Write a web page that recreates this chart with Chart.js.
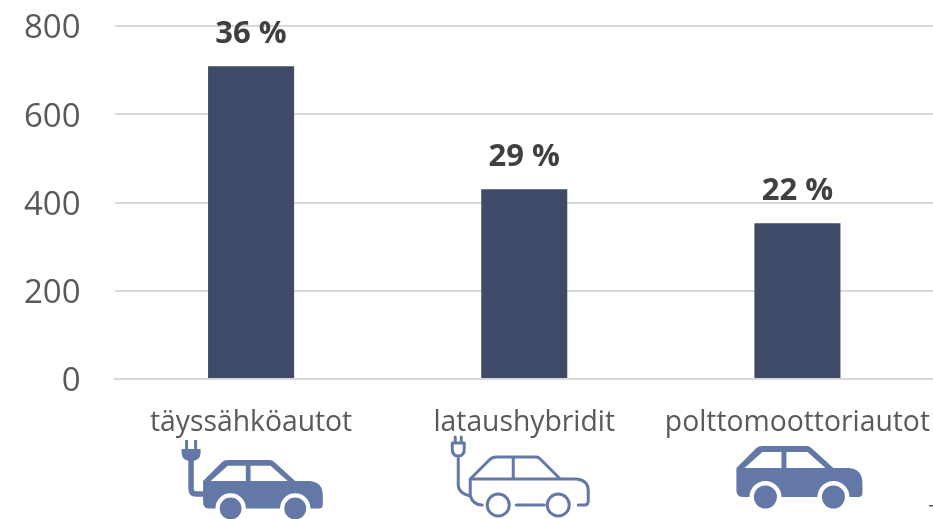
<!DOCTYPE html>
<html><head><meta charset="utf-8">
<style>html,body{margin:0;padding:0;background:#fff;overflow:hidden;width:933px;height:519px}canvas{display:block}</style>
<script src="https://cdn.jsdelivr.net/npm/chart.js@4"></script></head>
<body><canvas id="c" width="934" height="519" style="width:934px;height:519px"></canvas>
<script>
const categories = ["täyssähköautot", "lataushybridit", "polttomoottoriautot"];
const values = [709, 430, 353];
const shareLabels = ["36 %", "29 %", "22 %"];
const yTicks = [0, 200, 400, 600, 800];
const FONT = '"Open Sans", sans-serif';
const ICON = '#6478A8';

function solidCar(ctx, x, y, s) {
  ctx.save(); ctx.translate(x, y); ctx.scale(s, s);
  ctx.fillStyle = ICON;
  ctx.beginPath();
  ctx.moveTo(0, 22); ctx.lineTo(20, 2); ctx.quadraticCurveTo(22, 0, 26, 0);
  ctx.lineTo(70, 0); ctx.quadraticCurveTo(73, 0, 75, 2); ctx.lineTo(97, 22);
  ctx.lineTo(112, 22); ctx.quadraticCurveTo(126, 23, 126, 37);
  ctx.lineTo(126, 47); ctx.quadraticCurveTo(126, 51, 122, 51);
  ctx.lineTo(6, 51); ctx.quadraticCurveTo(0, 51, 0, 44); ctx.closePath(); ctx.fill();
  ctx.fillStyle = '#fff';
  ctx.beginPath(); ctx.moveTo(8, 22); ctx.lineTo(26, 6); ctx.lineTo(45, 6); ctx.lineTo(45, 22); ctx.closePath(); ctx.fill();
  ctx.beginPath(); ctx.moveTo(50, 6); ctx.lineTo(71, 6); ctx.lineTo(89, 22); ctx.lineTo(50, 22); ctx.closePath(); ctx.fill();
  [29, 97].forEach(cx => {
    ctx.fillStyle = '#fff'; ctx.beginPath(); ctx.arc(cx, 51, 16, 0, Math.PI * 2); ctx.fill();
    ctx.fillStyle = ICON; ctx.beginPath(); ctx.arc(cx, 51, 11.5, 0, Math.PI * 2); ctx.fill();
  });
  ctx.restore();
}
function solidPlug(ctx, x, y) {
  ctx.save(); ctx.translate(x, y);
  ctx.fillStyle = ICON;
  ctx.fillRect(-6, 0, 3, 10); ctx.fillRect(3, 0, 3, 10);
  ctx.beginPath(); ctx.moveTo(-9.5, 9); ctx.lineTo(9.5, 9); ctx.lineTo(9.5, 13);
  ctx.quadraticCurveTo(9, 21, 0, 21); ctx.quadraticCurveTo(-9, 21, -9.5, 13); ctx.closePath(); ctx.fill();
  ctx.strokeStyle = ICON; ctx.lineWidth = 5.5;
  ctx.beginPath(); ctx.moveTo(0, 20); ctx.lineTo(0, 49); ctx.quadraticCurveTo(0, 54, 5, 54); ctx.lineTo(14, 54); ctx.stroke();
  ctx.restore();
}
function outlineCar(ctx, x, y) {
  ctx.save(); ctx.translate(x, y);
  ctx.strokeStyle = ICON; ctx.lineWidth = 3; ctx.lineJoin = 'round'; ctx.lineCap = 'round';
  ctx.beginPath(); ctx.moveTo(-15, -20); ctx.lineTo(-15, -14); ctx.moveTo(-9, -20); ctx.lineTo(-9, -14);
  ctx.moveTo(-18, -14); ctx.lineTo(-6, -14); ctx.lineTo(-6, -8); ctx.quadraticCurveTo(-6, -1, -12, -1);
  ctx.quadraticCurveTo(-18, -1, -18, -8); ctx.closePath();
  ctx.moveTo(-12, -1); ctx.lineTo(-12, 28); ctx.quadraticCurveTo(-12, 36, 0, 39); ctx.quadraticCurveTo(3, 48, 12, 48);
  ctx.stroke();
  ctx.beginPath();
  ctx.moveTo(0, 39); ctx.lineTo(0, 22); ctx.lineTo(19, 3); ctx.quadraticCurveTo(22, 0, 26, 0);
  ctx.lineTo(66, 0); ctx.quadraticCurveTo(68, 0, 70, 2); ctx.lineTo(90, 22); ctx.lineTo(106, 22);
  ctx.quadraticCurveTo(118, 23, 118, 34); ctx.lineTo(118, 44); ctx.quadraticCurveTo(118, 48, 114, 48); ctx.lineTo(108, 48);
  ctx.moveTo(0, 22); ctx.lineTo(90, 22);
  ctx.moveTo(43, 0); ctx.lineTo(43, 22);
  ctx.moveTo(46, 48); ctx.lineTo(74, 48);
  ctx.stroke();
  [28, 88].forEach(cx => { ctx.beginPath(); ctx.arc(cx, 48, 11, 0, Math.PI * 2); ctx.stroke(); });
  ctx.restore();
}

const decorations = {
  id: 'decorations',
  beforeDraw(chart) {
    chart.scales.y.getLabelItems(chart.chartArea).forEach(item => { item.options.translation[1] += 3; });
  },
  afterDatasetsDraw(chart) {
    const { ctx } = chart;
    const xs = chart.scales.x, ys = chart.scales.y;
    ctx.save();
    ctx.font = 'bold 31px ' + FONT;
    ctx.fillStyle = '#404040';
    ctx.textAlign = 'center'; ctx.textBaseline = 'middle';
    values.forEach((v, i) => ctx.fillText(shareLabels[i], xs.getPixelForTick(i), ys.getPixelForValue(v) - 32));
    ctx.restore();
    const c0 = xs.getPixelForTick(0), c1 = xs.getPixelForTick(1), c2 = xs.getPixelForTick(2);
    solidPlug(ctx, c0 - 60, 440);
    solidCar(ctx, c0 - 48, 460, 0.95);
    outlineCar(ctx, c1 - 54, 457);
    solidCar(ctx, c2 - 61, 446, 1);
    ctx.save(); ctx.fillStyle = '#595959'; ctx.fillRect(929, 505, 4, 1.5); ctx.restore();
  }
};

new Chart(document.getElementById('c'), {
  type: 'bar',
  data: { labels: categories, datasets: [{ data: values, backgroundColor: '#3F4A68',
    categoryPercentage: 1, barPercentage: 0.315 }] },
  plugins: [decorations],
  options: {
    responsive: false, animation: false,
    layout: { padding: { top: 26, right: 0, left: 0, bottom: 0 } },
    plugins: { legend: { display: false }, tooltip: { enabled: false }, title: { display: false } },
    scales: {
      x: {
        grid: { display: false, drawTicks: false },
        border: { display: true, color: '#D9D9D9', width: 2 },
        afterFit(s) { s.height = 140; s.paddingLeft = 0; s.paddingRight = 0; },
        ticks: { autoSkip: false, maxRotation: 0, minRotation: 0, padding: 27, color: '#595959', font: { family: FONT, size: 28.3 } }
      },
      y: {
        min: 0, max: 800,
        afterFit(s) { s.width = 114.5; s.paddingTop = 0; s.paddingBottom = 0; },
        afterBuildTicks(s) { s.ticks = yTicks.map(v => ({ value: v })); },
        grid: { color: '#D9D9D9', lineWidth: 2, drawTicks: false },
        border: { display: false },
        ticks: { padding: 34, color: '#595959', font: { family: FONT, size: 33 } }
      }
    }
  }
});
</script></body></html>
